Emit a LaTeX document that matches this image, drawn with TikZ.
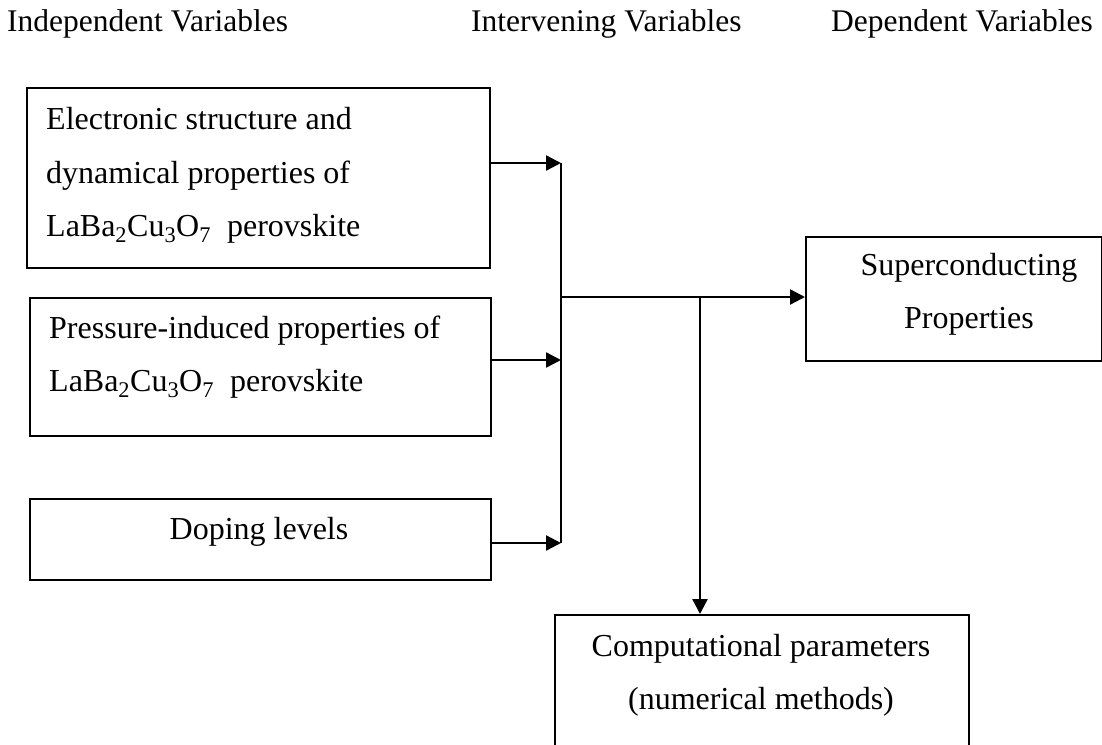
\documentclass[tikz,border=0pt]{standalone}
\usepackage{fontspec}
\setmainfont{Liberation Serif}
\usetikzlibrary{arrows.meta}
\tikzset{
  box/.style={draw=black, line width=2pt, rectangle, inner sep=0pt},
  lbl/.style={inner sep=0pt, anchor=base west, font=\fontsize{32}{38}\selectfont},
  clbl/.style={inner sep=0pt, anchor=base, font=\fontsize{32}{38}\selectfont},
  hdr/.style={inner sep=0pt, anchor=base west, font=\fontsize{31.5}{38}\selectfont},
  conn/.style={line width=2.4pt},
  arr/.style={conn, -{Triangle[length=15pt,width=15pt]}}
}
\newcommand{\lbcu}{LaBa\textsubscript{2}Cu\textsubscript{3}O\textsubscript{7}\ \ perovskite}
\begin{document}
\begin{tikzpicture}[x=1pt,y=-1pt]
\useasboundingbox (0,0) rectangle (1102,744);
\fill[white] (0,0) rectangle (1102,744);
% headers
\node[hdr] (h1) at (7,31) {Independent Variables};
\node[hdr] (h2) at (471,31) {Intervening Variables};
\node[hdr] (h3) at (831,31) {Dependent Variables};
% boxes
\node[box, minimum width=463pt, minimum height=180pt, anchor=north west] (b1) at (26,87) {};
\node[box, minimum width=461pt, minimum height=138pt, anchor=north west] (b2) at (29,297) {};
\node[box, minimum width=461pt, minimum height=81pt, anchor=north west] (b3) at (29,498) {};
\node[box, minimum width=296pt, minimum height=124pt, anchor=north west] (sp) at (805,236) {};
\node[box, minimum width=414pt, minimum height=150pt, anchor=north west] (cp) at (554,614) {};
% texts
\node[lbl] (t1a) at (46,129) {Electronic structure and};
\node[lbl] (t1b) at (46,183) {dynamical properties of};
\node[lbl] (t1c) at (46,236) {\lbcu};
\node[lbl] (t2a) at (49,338) {Pressure-induced properties of};
\node[lbl] (t2b) at (49,391) {\lbcu};
\node[clbl] (t3a) at (259,539) {Doping levels};
\node[clbl] (spa) at (969,275) {Superconducting};
\node[clbl] (spb) at (969,328) {Properties};
\node[clbl] (cpa) at (761,656) {Computational parameters};
\node[clbl] (cpb) at (761,709) {(numerical methods)};
% connectors
\coordinate (j1) at (561,163);
\coordinate (j2) at (561,360);
\coordinate (j3) at (561,543);
\coordinate (jm) at (561,297);
\coordinate (jd) at (700,297);
\draw[arr] (b1.east |- j1) -- (j1);
\draw[arr] (b2.east |- j2) -- (j2);
\draw[arr] (b3.east |- j3) -- (j3);
\draw[conn] (j1) -- (j3);
\draw[arr] (jm) -- (sp.west |- jm);
\draw[arr] (jd) -- (jd |- cp.north);
\end{tikzpicture}
\end{document}
